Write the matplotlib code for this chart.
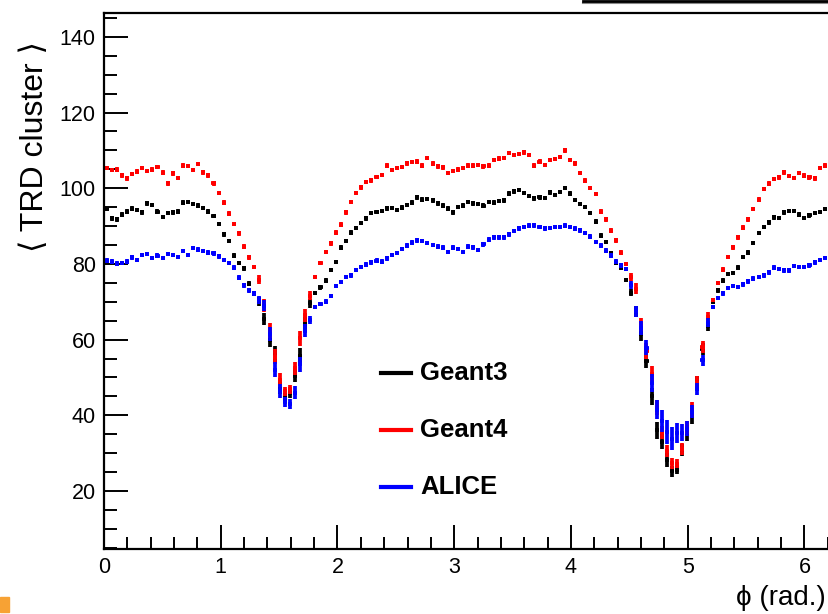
import numpy as np
import matplotlib
matplotlib.use('Agg')
import matplotlib.pyplot as plt
from matplotlib.lines import Line2D
from matplotlib.patches import Rectangle

plt.rcParams['font.family'] = ['Liberation Sans', 'DejaVu Sans']

# profile histograms, 144 bins in phi
n_bins = 144
geant3 = [94.5, 92.0, 91.8, 93.0, 93.8, 94.6, 94.2, 93.6, 96.0, 95.6, 93.8, 92.4,
          93.4, 93.6, 93.8, 96.2, 96.4, 95.8, 95.4, 94.8, 93.8, 92.6, 90.5, 87.8,
          86.0, 82.2, 80.2, 78.8, 74.8, 72.2, 70.0, 65.5, 60.0, 56.0, 47.5, 44.6,
          45.8, 50.5, 55.6, 64.2, 69.6, 72.3, 73.8, 75.6, 78.4, 80.5, 84.3, 86.0,
          88.3, 89.5, 90.8, 92.0, 93.5, 93.7, 94.0, 94.7, 94.8, 94.3, 94.9, 95.6,
          96.2, 97.6, 97.0, 97.2, 96.8, 96.0, 95.4, 94.6, 93.6, 95.0, 95.4, 96.3,
          96.0, 95.8, 95.4, 96.3, 96.2, 96.6, 96.8, 98.6, 99.2, 99.5, 98.7, 97.9,
          97.3, 97.6, 97.4, 98.9, 98.2, 99.0, 100.0, 98.6, 96.9, 95.8, 95.0, 93.4,
          91.2, 87.5, 85.8, 82.8, 80.2, 78.9, 75.8, 72.4, 67.4, 61.5, 54.4, 45.0,
          36.0, 33.0, 28.2, 25.2, 25.6, 30.8, 35.2, 39.8, 48.5, 57.5, 63.5, 70.0,
          73.0, 75.6, 77.3, 77.6, 79.0, 81.8, 83.0, 85.5, 88.2, 89.7, 91.0, 92.3,
          92.1, 93.6, 94.0, 94.0, 93.0, 92.1, 92.8, 93.5, 93.7, 94.5, 94.6, 94.4]
geant4 = [105.3, 104.8, 104.9, 103.4, 102.6, 103.7, 104.4, 105.3, 104.6, 104.9, 105.6, 104.1,
          101.3, 103.9, 102.7, 106.0, 105.9, 104.8, 106.4, 104.2, 103.4, 101.3, 98.7, 96.2,
          93.3, 90.6, 88.1, 84.6, 81.7, 79.2, 75.8, 69.0, 62.5, 55.5, 49.3, 46.4,
          46.9, 52.4, 60.3, 66.4, 71.6, 76.6, 80.2, 83.2, 85.4, 88.3, 90.4, 93.6,
          96.4, 98.7, 100.2, 101.7, 102.1, 103.0, 103.5, 106.0, 104.8, 105.3, 105.6, 106.6,
          106.9, 107.0, 106.0, 108.0, 106.5, 105.8, 105.5, 104.0, 104.6, 104.9, 105.3, 106.0,
          106.0, 106.1, 105.8, 106.0, 107.4, 107.8, 108.0, 109.3, 108.8, 109.0, 109.5, 108.8,
          106.0, 107.0, 106.1, 107.4, 107.7, 108.2, 110.0, 107.4, 106.6, 104.0, 102.0, 100.0,
          98.5, 93.8, 91.8, 88.8, 86.2, 83.0, 80.0, 76.5, 73.5, 64.0, 57.0, 51.0,
          42.0, 35.5, 30.5, 27.3, 27.2, 31.0, 36.8, 41.5, 48.5, 58.0, 66.0, 70.5,
          75.0, 78.5, 81.8, 84.4, 87.0, 89.6, 91.8, 94.5, 97.0, 99.8, 101.2, 102.4,
          102.9, 104.2, 103.2, 102.7, 104.0, 103.3, 102.9, 102.6, 105.3, 106.0, 105.4, 105.7]
alice = [80.9, 80.6, 80.1, 80.3, 80.6, 81.7, 81.0, 82.4, 82.6, 81.6, 82.2, 81.6,
         82.6, 82.4, 81.8, 83.4, 82.4, 84.2, 83.8, 83.4, 83.0, 82.8, 82.0, 81.0,
         80.2, 79.0, 76.4, 74.3, 73.0, 72.2, 70.5, 69.0, 61.5, 52.0, 46.5, 43.5,
         43.0, 46.0, 53.5, 62.4, 65.2, 68.6, 69.4, 70.0, 71.5, 74.2, 75.2, 76.5,
         77.0, 78.4, 79.2, 79.8, 80.4, 80.9, 80.6, 81.5, 82.4, 82.9, 84.0, 84.8,
         85.6, 86.2, 86.0, 85.5, 85.0, 84.6, 84.3, 83.1, 84.3, 84.0, 83.2, 84.6,
         84.4, 83.7, 85.2, 86.4, 87.0, 87.0, 87.0, 87.8, 88.7, 89.4, 89.7, 90.1,
         90.2, 89.8, 89.4, 89.5, 89.7, 89.7, 90.1, 89.8, 89.3, 88.9, 88.2, 87.2,
         85.8, 84.8, 83.5, 82.2, 80.6, 79.6, 78.6, 74.5, 67.5, 63.0, 57.9, 48.5,
         41.5, 38.5, 35.5, 33.8, 35.3, 35.4, 36.5, 41.0, 47.0, 54.5, 64.5, 68.6,
         71.0, 72.2, 73.6, 74.2, 73.9, 74.6, 75.4, 76.1, 76.6, 77.0, 77.8, 79.0,
         78.6, 78.3, 78.3, 79.4, 79.2, 79.2, 79.6, 80.4, 81.0, 81.6, 81.7, 81.5]

# errors on the mean (bigger in the two dips)
err_g3 = [0.6] * 30 + [1.2, 1.6, 2.0, 2.2, 2.0, 1.4, 1.2, 1.8, 2.2, 1.8, 1.2] + [0.6] * 62 + \
         [1.0, 1.4, 1.8, 2.0, 2.2, 2.2, 2.0, 1.8, 1.4, 1.2, 1.6, 2.0, 2.2, 2.0, 1.6, 1.2] + [0.6] * 25
err_g4 = [0.6] * 30 + [1.2, 1.6, 2.0, 2.0, 1.8, 1.2, 1.2, 1.8, 2.0, 1.8, 1.2] + [0.6] * 62 + \
         [1.0, 1.4, 1.8, 2.0, 2.0, 2.0, 1.8, 1.6, 1.4, 1.2, 1.6, 1.8, 2.0, 2.0, 1.6, 1.2] + [0.6] * 25
err_alice = [0.6] * 30 + [1.0, 1.4, 1.8, 2.0, 1.8, 1.4, 1.4, 1.8, 2.0, 1.6, 1.0] + [0.6] * 62 + \
            [1.0, 1.4, 1.8, 2.0, 2.4, 2.6, 3.0, 3.2, 3.0, 2.6, 2.2, 2.0, 1.8, 1.6, 1.4, 1.2] + [0.6] * 25

labels = ['Geant3', 'Geant4', 'ALICE']
colors = ['black', 'red', 'blue']

edges = np.linspace(0, 2 * np.pi, n_bins + 1)
centers = 0.5 * (edges[1:] + edges[:-1])
half = 0.5 * (edges[1] - edges[0])

fig = plt.figure(figsize=(8.29, 6.14), dpi=100)
ax = fig.add_axes([104 / 829, 1 - 549 / 614, 733.5 / 829, 536 / 614])

for y, e, c in zip([geant3, geant4, alice], [err_g3, err_g4, err_alice], colors):
    ax.errorbar(centers, y, xerr=half * 0.8, yerr=e, fmt='none', ecolor=c,
                elinewidth=2.7, capsize=0)

ax.set_xlim(0, 2 * np.pi)
ax.set_ylim(4.67, 146.3)
ax.set_xticks(np.arange(0, 7, 1))
ax.set_xticks(np.arange(0, 6.3, 0.2), minor=True)
ax.set_yticks(np.arange(20, 141, 20))
ax.set_yticks(np.arange(5, 146, 5), minor=True)
ax.tick_params(which='both', direction='in', top=False, right=False, width=1.4,
               labelsize=15.5, pad=6)
ax.tick_params(which='major', length=17)
ax.tick_params(which='minor', length=9)
for s in ax.spines.values():
    s.set_linewidth(1.6)

fig.text(35 / 829, 1 - 147 / 614, '\u27e8 TRD cluster \u27e9', rotation=90,
         ha='center', va='center', fontsize=23)
fig.text(826 / 829, 1 - 598 / 614, '\u03d5 (rad.)', ha='right', va='center', fontsize=20)

# legend drawn by hand
leg_y = [373, 430, 487]
for lab, c, yy in zip(labels, colors, leg_y):
    fig.add_artist(Line2D([381 / 829, 411 / 829], [1 - yy / 614, 1 - yy / 614],
                          color=c, lw=3, transform=fig.transFigure))
    fig.text(420 / 829, 1 - yy / 614, lab, ha='left', va='center',
             fontsize=18.5, fontweight='bold')

# bottom edge of the title box at the top and the small orange square
fig.add_artist(Line2D([583 / 829, 1.0], [1 - 2.5 / 614, 1 - 2.5 / 614], color='#888888',
                      lw=1.5, transform=fig.transFigure))
fig.add_artist(Line2D([583 / 829, 1.0], [1 - 1 / 614, 1 - 1 / 614], color='black',
                      lw=2, transform=fig.transFigure))
fig.add_artist(Rectangle((0, 2 / 614), 9 / 829, 15 / 614, color='#f7a234',
                         transform=fig.transFigure))

fig.savefig('out.png', dpi=100)
